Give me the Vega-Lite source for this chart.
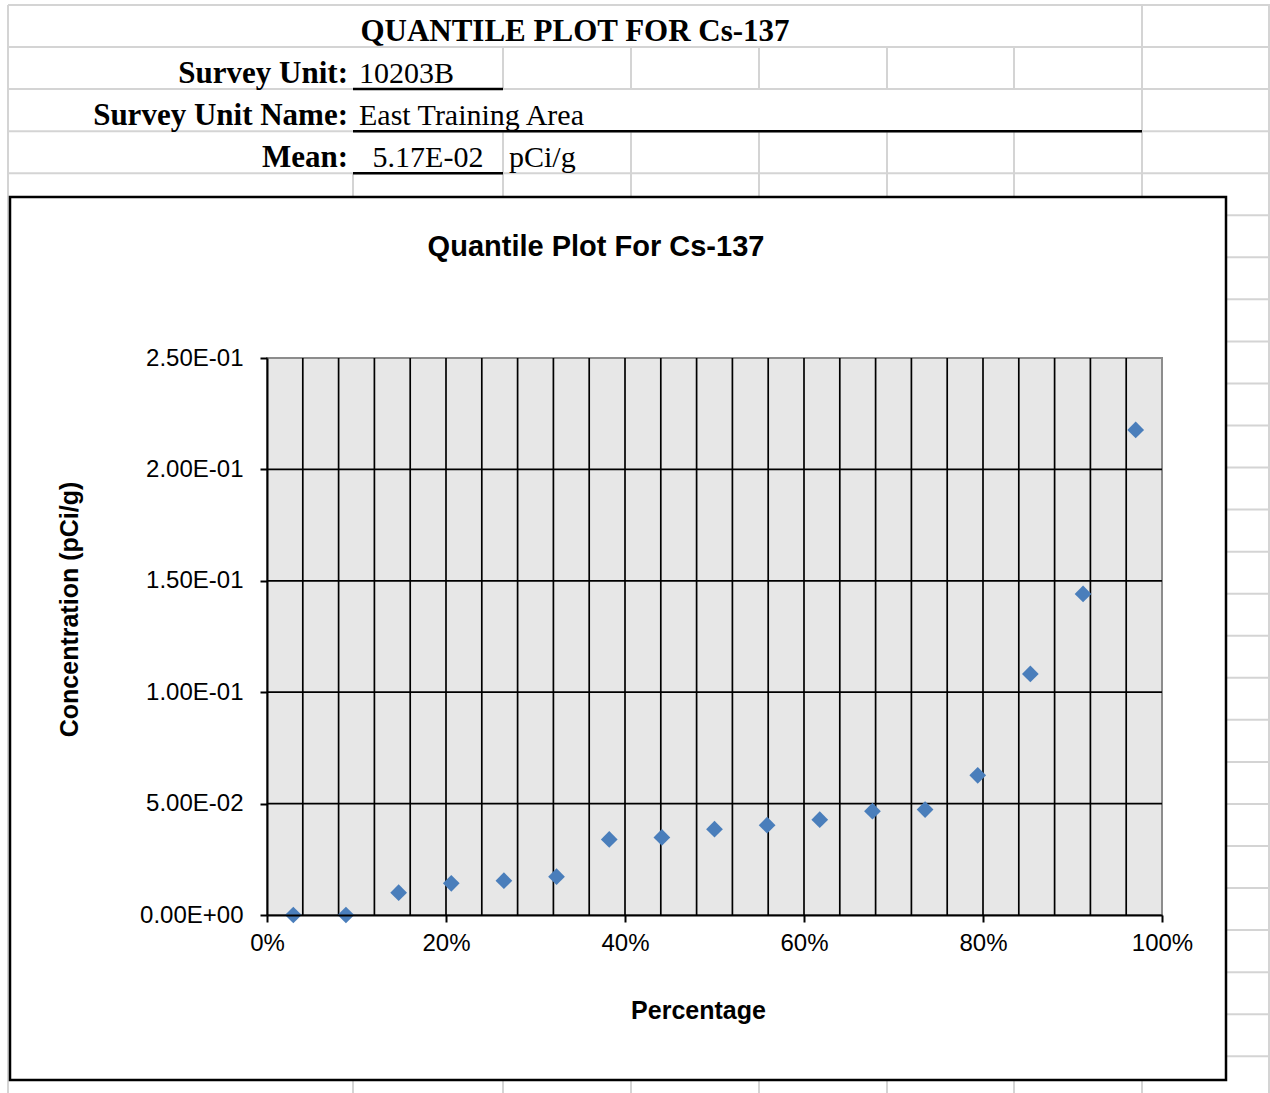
{
  "$schema": "https://vega.github.io/schema/vega-lite/v6.json",
  "width": 1270,
  "height": 1093,
  "autosize": {"type": "none"},
  "padding": 0,
  "background": "#ffffff",
  "config": {"view": {"stroke": null}},
  "datasets": {
    "sheet_cols": [
      {"x": 8, "r0": 0, "r1": 26},
      {"x": 353, "r0": 4, "r1": 26},
      {"x": 503, "r0": 1, "r1": 2},
      {"x": 503, "r0": 3, "r1": 26},
      {"x": 631, "r0": 1, "r1": 2},
      {"x": 631, "r0": 3, "r1": 26},
      {"x": 759, "r0": 1, "r1": 2},
      {"x": 759, "r0": 3, "r1": 26},
      {"x": 887, "r0": 1, "r1": 2},
      {"x": 887, "r0": 3, "r1": 26},
      {"x": 1014, "r0": 1, "r1": 2},
      {"x": 1014, "r0": 3, "r1": 26},
      {"x": 1142, "r0": 0, "r1": 26},
      {"x": 1269, "r0": 0, "r1": 26}
    ],
    "sheet_rows": [
      {"r": 0}, {"r": 1}, {"r": 2}, {"r": 3}, {"r": 4}, {"r": 5}, {"r": 6},
      {"r": 7}, {"r": 8}, {"r": 9}, {"r": 10}, {"r": 11}, {"r": 12}, {"r": 13},
      {"r": 14}, {"r": 15}, {"r": 16}, {"r": 17}, {"r": 18}, {"r": 19}, {"r": 20},
      {"r": 21}, {"r": 22}, {"r": 23}, {"r": 24}, {"r": 25}
    ],
    "underlines": [
      {"r": 2, "from": 353, "to": 503},
      {"r": 3, "from": 353, "to": 1142},
      {"r": 4, "from": 353, "to": 503}
    ],
    "header_title": [
      {"text": "QUANTILE PLOT FOR Cs-137", "x": 575, "r": 1}
    ],
    "header_labels": [
      {"text": "Survey Unit:", "x": 353, "r": 2},
      {"text": "Survey Unit Name:", "x": 353, "r": 3},
      {"text": "Mean:", "x": 353, "r": 4}
    ],
    "header_values": [
      {"text": "10203B", "x": 353, "r": 2},
      {"text": "East Training Area", "x": 353, "r": 3},
      {"text": "pCi/g", "x": 503, "r": 4}
    ],
    "header_mean": [
      {"text": "5.17E-02", "x": 428, "r": 4}
    ],
    "quantiles": [
      {"pct": 0.0294, "conc": 0.0},
      {"pct": 0.0882, "conc": 0.0},
      {"pct": 0.1471, "conc": 0.0100},
      {"pct": 0.2059, "conc": 0.0142},
      {"pct": 0.2647, "conc": 0.0154},
      {"pct": 0.3235, "conc": 0.0172},
      {"pct": 0.3824, "conc": 0.0339},
      {"pct": 0.4412, "conc": 0.0348},
      {"pct": 0.5000, "conc": 0.0385},
      {"pct": 0.5588, "conc": 0.0403},
      {"pct": 0.6176, "conc": 0.0428},
      {"pct": 0.6765, "conc": 0.0466},
      {"pct": 0.7353, "conc": 0.0473},
      {"pct": 0.7941, "conc": 0.0627},
      {"pct": 0.8529, "conc": 0.1082},
      {"pct": 0.9118, "conc": 0.1441},
      {"pct": 0.9706, "conc": 0.2177}
    ],
    "grid_x": [
      {"v": 0.04}, {"v": 0.08}, {"v": 0.12}, {"v": 0.16}, {"v": 0.20}, {"v": 0.24},
      {"v": 0.28}, {"v": 0.32}, {"v": 0.36}, {"v": 0.40}, {"v": 0.44}, {"v": 0.48},
      {"v": 0.52}, {"v": 0.56}, {"v": 0.60}, {"v": 0.64}, {"v": 0.68}, {"v": 0.72},
      {"v": 0.76}, {"v": 0.80}, {"v": 0.84}, {"v": 0.88}, {"v": 0.92}, {"v": 0.96}
    ],
    "grid_y": [
      {"v": 0.05}, {"v": 0.10}, {"v": 0.15}, {"v": 0.20}
    ]
  },
  "layer": [
    {
      "layer": [
        {
          "data": {"name": "sheet_rows"},
          "mark": {"type": "rule", "color": "#d4d4d4", "strokeWidth": 2},
          "encoding": {
            "x": {"datum": 8, "type": "quantitative", "scale": {"domain": [0, 1270], "nice": false, "zero": false}, "axis": null},
            "x2": {"datum": 1270},
            "y": {"field": "r", "type": "quantitative", "scale": {"domain": [0, 26], "range": [5, 1098.3], "nice": false, "zero": false}, "axis": null}
          }
        },
        {
          "data": {"name": "sheet_cols"},
          "mark": {"type": "rule", "color": "#d4d4d4", "strokeWidth": 2},
          "encoding": {
            "x": {"field": "x", "type": "quantitative", "scale": {"domain": [0, 1270], "nice": false, "zero": false}, "axis": null},
            "y": {"field": "r0", "type": "quantitative", "scale": {"domain": [0, 26], "range": [5, 1098.3], "nice": false, "zero": false}, "axis": null},
            "y2": {"field": "r1"}
          }
        },
        {
          "data": {"name": "underlines"},
          "mark": {"type": "rule", "color": "#000000", "strokeWidth": 2.5},
          "encoding": {
            "x": {"field": "from", "type": "quantitative", "scale": {"domain": [0, 1270], "nice": false, "zero": false}, "axis": null},
            "x2": {"field": "to"},
            "y": {"field": "r", "type": "quantitative", "scale": {"domain": [0, 26], "range": [5, 1098.3], "nice": false, "zero": false}, "axis": null}
          }
        },
        {
          "data": {"name": "header_title"},
          "mark": {"type": "text", "font": "Liberation Serif", "fontWeight": "bold", "fontSize": 31, "align": "center", "baseline": "alphabetic", "dy": -6, "color": "#000000"},
          "encoding": {
            "x": {"field": "x", "type": "quantitative", "scale": {"domain": [0, 1270], "nice": false, "zero": false}, "axis": null},
            "y": {"field": "r", "type": "quantitative", "scale": {"domain": [0, 26], "range": [5, 1098.3], "nice": false, "zero": false}, "axis": null},
            "text": {"field": "text"}
          }
        },
        {
          "data": {"name": "header_labels"},
          "mark": {"type": "text", "font": "Liberation Serif", "fontWeight": "bold", "fontSize": 31, "align": "right", "baseline": "alphabetic", "dx": -5, "dy": -6, "color": "#000000"},
          "encoding": {
            "x": {"field": "x", "type": "quantitative", "scale": {"domain": [0, 1270], "nice": false, "zero": false}, "axis": null},
            "y": {"field": "r", "type": "quantitative", "scale": {"domain": [0, 26], "range": [5, 1098.3], "nice": false, "zero": false}, "axis": null},
            "text": {"field": "text"}
          }
        },
        {
          "data": {"name": "header_values"},
          "mark": {"type": "text", "font": "Liberation Serif", "fontSize": 30, "align": "left", "baseline": "alphabetic", "dx": 6, "dy": -6, "color": "#000000"},
          "encoding": {
            "x": {"field": "x", "type": "quantitative", "scale": {"domain": [0, 1270], "nice": false, "zero": false}, "axis": null},
            "y": {"field": "r", "type": "quantitative", "scale": {"domain": [0, 26], "range": [5, 1098.3], "nice": false, "zero": false}, "axis": null},
            "text": {"field": "text"}
          }
        },
        {
          "data": {"name": "header_mean"},
          "mark": {"type": "text", "font": "Liberation Serif", "fontSize": 30, "align": "center", "baseline": "alphabetic", "dy": -6, "color": "#000000"},
          "encoding": {
            "x": {"field": "x", "type": "quantitative", "scale": {"domain": [0, 1270], "nice": false, "zero": false}, "axis": null},
            "y": {"field": "r", "type": "quantitative", "scale": {"domain": [0, 26], "range": [5, 1098.3], "nice": false, "zero": false}, "axis": null},
            "text": {"field": "text"}
          }
        },
        {
          "data": {"values": [{}]},
          "mark": {"type": "rect", "fill": "#ffffff", "stroke": "#000000", "strokeWidth": 2.5},
          "encoding": {
            "x": {"datum": 10, "type": "quantitative", "scale": {"domain": [0, 1270], "nice": false, "zero": false}, "axis": null},
            "x2": {"datum": 1226},
            "y": {"datum": 4.566, "type": "quantitative", "scale": {"domain": [0, 26], "range": [5, 1098.3], "nice": false, "zero": false}, "axis": null},
            "y2": {"datum": 25.565}
          }
        }
      ]
    },
    {
      "layer": [
        {
          "data": {"values": [{}]},
          "mark": {"type": "rect", "fill": "#e7e7e7", "stroke": "#8c8c8c", "strokeWidth": 2},
          "encoding": {
            "x": {
              "datum": 0, "type": "quantitative",
              "scale": {"domain": [0, 1], "range": [267, 1162], "nice": false, "zero": false},
              "axis": {
                "orient": "bottom", "offset": -178, "values": [0, 0.2, 0.4, 0.6, 0.8, 1], "format": ".0%",
                "title": "Percentage", "grid": false, "zindex": 1,
                "domainColor": "#000000", "domainWidth": 2, "tickColor": "#000000", "tickWidth": 2, "tickSize": 7,
                "labelFont": "Liberation Sans", "labelFontSize": 24, "labelColor": "#000000", "labelPadding": 9,
                "labelFlush": false, "labelOverlap": false,
                "titleFont": "Liberation Sans", "titleFontSize": 25, "titleFontWeight": "bold", "titleColor": "#000000",
                "titlePadding": 43, "titleX": 698
              }
            },
            "x2": {"datum": 1},
            "y": {
              "datum": 0, "type": "quantitative",
              "scale": {"domain": [0, 0.25], "range": [915, 358], "nice": false, "zero": false},
              "axis": {
                "orient": "left", "offset": -267, "values": [0, 0.05, 0.1, 0.15, 0.2, 0.25],
                "labelExpr": "replace(upper(format(datum.value, '.2e')), regexp('E([+-])([0-9])$'), 'E$10$2')",
                "title": "Concentration (pCi/g)", "grid": false, "zindex": 1,
                "domainColor": "#000000", "domainWidth": 2, "tickColor": "#000000", "tickWidth": 2, "tickSize": 7,
                "labelFont": "Liberation Sans", "labelFontSize": 24, "labelColor": "#000000", "labelPadding": 17,
                "labelFlush": false, "labelOverlap": false,
                "titleFont": "Liberation Sans", "titleFontSize": 25, "titleFontWeight": "bold", "titleColor": "#000000",
                "titlePadding": 57, "titleY": 609
              }
            },
            "y2": {"datum": 0.25}
          }
        },
        {
          "data": {"name": "grid_x"},
          "mark": {"type": "rule", "color": "#000000", "strokeWidth": 1.7},
          "encoding": {
            "x": {"field": "v", "type": "quantitative", "scale": {"domain": [0, 1], "range": [267, 1162], "nice": false, "zero": false}},
            "y": {"datum": 0, "type": "quantitative", "scale": {"domain": [0, 0.25], "range": [915, 358], "nice": false, "zero": false}},
            "y2": {"datum": 0.25}
          }
        },
        {
          "data": {"name": "grid_y"},
          "mark": {"type": "rule", "color": "#000000", "strokeWidth": 1.7},
          "encoding": {
            "y": {"field": "v", "type": "quantitative", "scale": {"domain": [0, 0.25], "range": [915, 358], "nice": false, "zero": false}},
            "x": {"datum": 0, "type": "quantitative", "scale": {"domain": [0, 1], "range": [267, 1162], "nice": false, "zero": false}},
            "x2": {"datum": 1}
          }
        },
        {
          "data": {"name": "quantiles"},
          "mark": {"type": "point", "shape": "diamond", "filled": true, "color": "#4a7ebb", "opacity": 1, "size": 280},
          "encoding": {
            "x": {"field": "pct", "type": "quantitative", "scale": {"domain": [0, 1], "range": [267, 1162], "nice": false, "zero": false}},
            "y": {"field": "conc", "type": "quantitative", "scale": {"domain": [0, 0.25], "range": [915, 358], "nice": false, "zero": false}}
          }
        },
        {
          "data": {"values": [{"label": "Quantile Plot For Cs-137"}]},
          "mark": {"type": "text", "font": "Liberation Sans", "fontWeight": "bold", "fontSize": 29, "align": "center", "baseline": "alphabetic", "color": "#000000"},
          "encoding": {
            "x": {"datum": 0.3676, "type": "quantitative", "scale": {"domain": [0, 1], "range": [267, 1162], "nice": false, "zero": false}},
            "y": {"datum": 0.2958, "type": "quantitative", "scale": {"domain": [0, 0.25], "range": [915, 358], "nice": false, "zero": false}},
            "text": {"field": "label"}
          }
        }
      ]
    }
  ],
  "resolve": {"scale": {"x": "independent", "y": "independent"}}
}
